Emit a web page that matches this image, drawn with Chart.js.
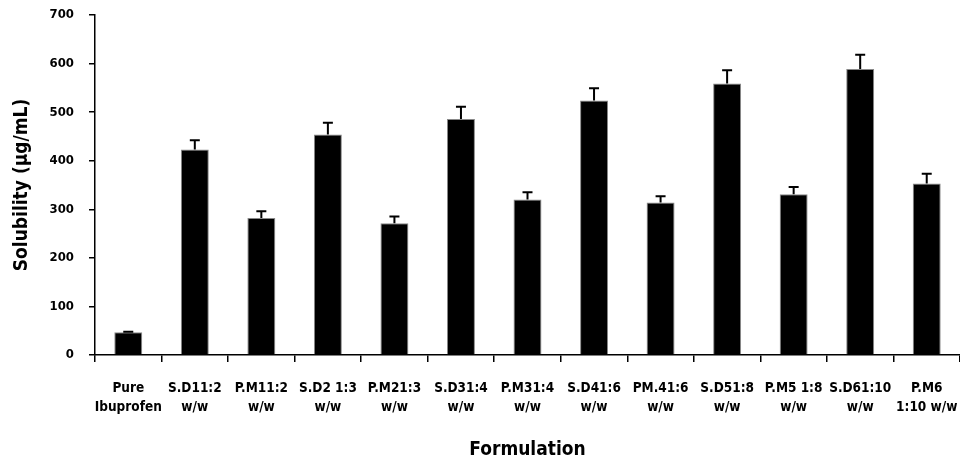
<!DOCTYPE html>
<html>
<head>
<meta charset="utf-8">
<script src="https://cdn.jsdelivr.net/npm/chart.js@4"></script>
<style>
  html, body { margin: 0; padding: 0; background: #fff; }
  #wrap { width: 960px; height: 461px; }
</style>
</head>
<body>
<div id="wrap"><canvas id="myChart"></canvas></div>
<script>
const labels = [
  ["Pure", "Ibuprofen"], ["S.D11:2", "w/w"], ["P.M11:2", "w/w"], ["S.D2 1:3", "w/w"],
  ["P.M21:3", "w/w"], ["S.D31:4", "w/w"], ["P.M31:4", "w/w"], ["S.D41:6", "w/w"],
  ["PM.41:6", "w/w"], ["S.D51:8", "w/w"], ["P.M5 1:8", "w/w"], ["S.D61:10", "w/w"],
  ["P.M6", "1:10 w/w"]
];
const solubility = [47, 423, 282, 454, 271, 486, 320, 524, 314, 559, 331, 589, 353];
const errors = [1, 19, 14, 24, 14, 25, 15, 25, 13, 27, 15, 29, 20];
const yTicks = [0, 100, 200, 300, 400, 500, 600, 700];

const fontFamily = "'Liberation Sans Narrow', 'DejaVu Sans Condensed', sans-serif";

const errorBars = {
  id: "errorBars",
  afterDatasetsDraw(chart) {
    const ctx = chart.ctx;
    const y = chart.scales.y;
    const meta = chart.getDatasetMeta(0);
    ctx.save();
    ctx.strokeStyle = "#000";
    ctx.lineWidth = 2;
    meta.data.forEach((bar, i) => {
      const top = y.getPixelForValue(solubility[i] + errors[i]);
      ctx.beginPath();
      ctx.moveTo(bar.x, bar.y);
      ctx.lineTo(bar.x, top);
      ctx.moveTo(bar.x - 5, top);
      ctx.lineTo(bar.x + 5, top);
      ctx.stroke();
    });
    ctx.restore();
  }
};

const config = {
  type: "bar",
  data: {
    labels: labels,
    datasets: [{
      data: solubility,
      backgroundColor: "#000",
      borderColor: "#888",
      borderWidth: 1,
      barPercentage: 0.42,
      categoryPercentage: 1.0,
    }],
  },
  options: {
    responsive: true,
    maintainAspectRatio: false,
    animation: false,
    layout: { padding: { top: 15, right: 0, left: 0, bottom: 0 } },
    plugins: {
      legend: { display: false },
      tooltip: { enabled: false },
    },
    scales: {
      x: {
        grid: { drawOnChartArea: false, drawTicks: true, tickLength: 7, color: "#000", lineWidth: 1.5, offset: true },
        border: { display: true, color: "#000", width: 1.5 },
        ticks: {
          color: "#000", maxRotation: 0, autoSkip: false, padding: 17,
          font: { family: fontFamily, size: 13.5, weight: "bold", lineHeight: 1.4 },
        },
        title: {
          display: true, text: "Formulation", color: "#000",
          font: { family: fontFamily, size: 19, weight: "bold" },
          padding: { top: 8, bottom: 0 },
        },
        afterFit(scale) { scale.height = 106; scale.paddingRight = 0; scale.paddingLeft = 0; },
      },
      y: {
        min: 0, max: 700,
        afterBuildTicks(scale) { scale.ticks = yTicks.map(v => ({ value: v })); },
        grid: { drawOnChartArea: false, drawTicks: true, tickLength: 6, color: "#000", lineWidth: 1.5 },
        border: { display: true, color: "#000", width: 1.5 },
        ticks: {
          color: "#000", padding: 15,
          font: { family: fontFamily, size: 13, weight: "bold" },
        },
        title: {
          display: true, text: "Solubility (µg/mL)", color: "#000",
          font: { family: fontFamily, size: 19, weight: "bold" },
          padding: { top: 11, bottom: 0 },
        },
        afterFit(scale) { scale.width = 95; scale.paddingTop = 0; scale.paddingBottom = 0; },
      },
    },
  },
  plugins: [errorBars],
};

const ctx = document.getElementById("myChart").getContext("2d");
new Chart(ctx, config);
</script>
</body>
</html>
